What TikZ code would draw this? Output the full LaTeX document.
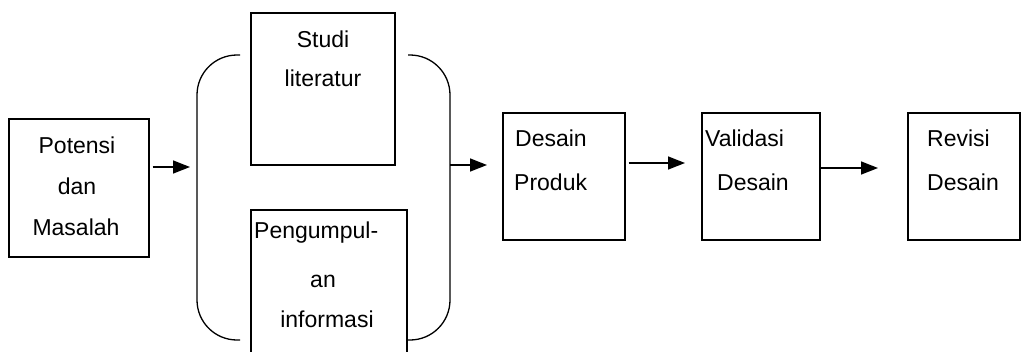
\documentclass[tikz,border=0pt]{standalone}
\usepackage{fontspec}
\setmainfont{Liberation Sans}
\usetikzlibrary{arrows.meta}
\begin{document}
\begin{tikzpicture}[x=1pt,y=-1pt,
  box/.style={draw,line width=1.3pt,rectangle,inner sep=0pt},
  lbl/.style={inner sep=0pt,font=\fontsize{23}{28}\selectfont},
  arr/.style={line width=1.5pt,-{Triangle[length=17pt,width=13pt]}},
  brk/.style={line width=1.3pt,rounded corners=40pt}]
\useasboundingbox (0,0) rectangle (1022,351);
\clip (0,0) rectangle (1022,351);
% boxes
\node[box,minimum width=140pt,minimum height=138pt] (pot) at (79,188) {};
\node[box,minimum width=144pt,minimum height=152pt] (studi) at (323,89) {};
\node[box,minimum width=156pt,minimum height=160pt] (peng) at (329,290) {};
\node[box,minimum width=122pt,minimum height=127pt] (desain) at (564,176.5) {};
\node[box,minimum width=118pt,minimum height=127pt] (valid) at (761,176.5) {};
\node[box,minimum width=112pt,minimum height=127pt] (revisi) at (964,176.5) {};
% labels
\node[lbl,anchor=base] (t1a) at (77,153) {Potensi};
\node[lbl,anchor=base] (t1b) at (77,194) {dan};
\node[lbl,anchor=base] (t1c) at (76,235) {Masalah};
\node[lbl,anchor=base] (t2a) at (323,47) {Studi};
\node[lbl,anchor=base] (t2b) at (323,86) {literatur};
\node[lbl,anchor=base west] (t3a) at (254,238) {Pengumpul-};
\node[lbl,anchor=base] (t3b) at (323,287) {an};
\node[lbl,anchor=base] (t3c) at (327,327) {informasi};
\node[lbl,anchor=base west] (t4a) at (515,146.7) {Desain};
\node[lbl,anchor=base west] (t4b) at (514,190.7) {Produk};
\node[lbl,anchor=base west] (t5a) at (705,146.7) {Validasi};
\node[lbl,anchor=base west] (t5b) at (717,190.7) {Desain};
\node[lbl,anchor=base west] (t6a) at (927,146.7) {Revisi};
\node[lbl,anchor=base west] (t6b) at (927,190.7) {Desain};
% brackets
\draw[brk] (240,55) -- (197,55) -- (197,340) -- (240,340);
\draw[brk] (408,55) -- (450,55) -- (450,340) -- (408,340);
% arrow ends
\coordinate (lb) at (190,167);
\coordinate (rb) at (450,165);
\coordinate (rt) at (487,165);
\coordinate (t2) at (685,163);
\coordinate (t3) at (878,168);
% arrows
\draw[arr] ([xshift=3pt]pot.east |- lb) -- (lb);
\draw[arr] (rb) -- (rt);
\draw[arr] ([xshift=3pt]desain.east |- t2) -- (t2);
\draw[arr] (valid.east |- t3) -- (t3);
\end{tikzpicture}
\end{document}
